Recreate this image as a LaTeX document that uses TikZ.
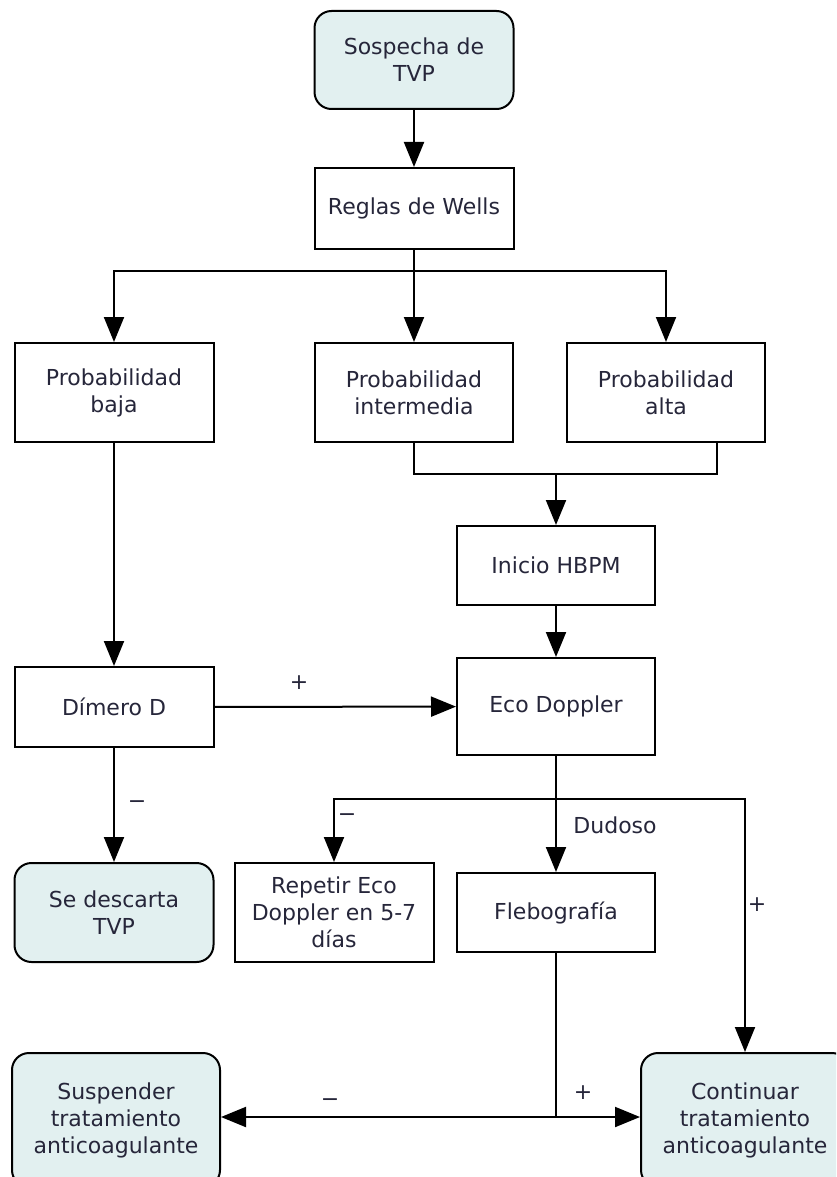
\documentclass[tikz,border=0pt]{standalone}
\usepackage{fontspec}
\setmainfont{DejaVu Sans}
\usetikzlibrary{arrows.meta}
\definecolor{txt}{HTML}{26263A}
\definecolor{termfill}{HTML}{E2F0F0}
\begin{document}
\begin{tikzpicture}[x=1pt,y=-1pt,
  box/.style={draw=black, line width=2pt, fill=white, text=txt, align=center,
    font=\fontsize{22}{27}\selectfont, inner sep=0pt},
  term/.style={box, fill=termfill, rounded corners=17pt},
  ln/.style={line width=2pt},
  arr/.style={line width=2pt, -{Triangle[length=25pt,width=20pt]}},
  lab/.style={text=txt, font=\fontsize{22}{27}\selectfont, inner sep=0pt}]
\useasboundingbox (0,0) rectangle (836,1177);
\clip (0,0) rectangle (836,1177);
\fill[white] (0,0) rectangle (836,1177);

\node[term, minimum width=199pt, minimum height=98pt] (sos) at (414,60) {Sospecha de\\TVP};
\node[box, minimum width=199pt, minimum height=81pt] (wells) at (414,208.5) {Reglas de Wells};
\node[box, minimum width=199pt, minimum height=99pt] (baja) at (114,392.5) {Probabilidad\\baja};
\node[box, minimum width=198pt, minimum height=99pt] (inter) at (414,392.5) {Probabilidad\\intermedia};
\node[box, minimum width=198pt, minimum height=99pt] (alta) at (666,392.5) {Probabilidad\\alta};
\node[box, minimum width=198pt, minimum height=79pt] (hbpm) at (556,565.5) {Inicio HBPM};
\node[box, minimum width=198pt, minimum height=97pt] (eco) at (556,706.5) {Eco Doppler};
\node[box, minimum width=199pt, minimum height=80pt] (dimero) at (114,707) {Dímero D};
\node[term, minimum width=199pt, minimum height=99pt] (descarta) at (114,912.5) {Se descarta\\TVP};
\node[box, minimum width=199pt, minimum height=99pt] (repetir) at (334,912.5) {Repetir Eco\\Doppler en 5-7\\días};
\node[box, minimum width=198pt, minimum height=79pt] (fleb) at (556,912.5) {Flebografía};
\node[term, minimum width=208pt, minimum height=134pt] (susp) at (116,1120) {Suspender\\tratamiento\\anticoagulante};
\node[term, minimum width=208pt, minimum height=134pt] (cont) at (745,1120) {Continuar\\tratamiento\\anticoagulante};

\coordinate (j1) at (414,271);
\coordinate (j2) at (556,474);
\coordinate (j3) at (556,799);
\coordinate (j4) at (556,1117);
\coordinate (altaR) at (717,442);

\draw[arr] (sos) -- (wells);
\draw[ln] (wells.south) -- (j1);
\draw[arr] (j1) -| (baja.north);
\draw[arr] (j1) -- (inter.north);
\draw[arr] (j1) -| (alta.north);
\draw[ln] (inter.south) |- (j2) -| (altaR);
\draw[arr] (j2) -- (hbpm.north);
\draw[arr] (hbpm) -- (eco);
\draw[arr] (baja) -- (dimero);
\draw[arr] (dimero) -- (eco);
\draw[arr] (dimero) -- (descarta);
\draw[ln] (eco.south) -- (j3);
\draw[arr] (j3) -- (fleb.north);
\draw[arr] (j3) -| (repetir.north);
\draw[arr] (j3) -| (cont.north);
\draw[ln] (fleb.south) -- (j4);
\draw[arr] (j4) -- (j4 -| cont.west);
\draw[arr] (j4) -- (j4 -| susp.east);

\node[lab] (l1) at (299,683) {+};
\node[lab] (l2) at (137,805) {−};
\node[lab] (l3) at (347,818) {−};
\node[lab] (l4) at (615,825) {Dudoso};
\node[lab] (l5) at (757,905) {+};
\node[lab] (l6) at (583,1093) {+};
\node[lab] (l7) at (330,1103) {−};
\end{tikzpicture}
\end{document}
